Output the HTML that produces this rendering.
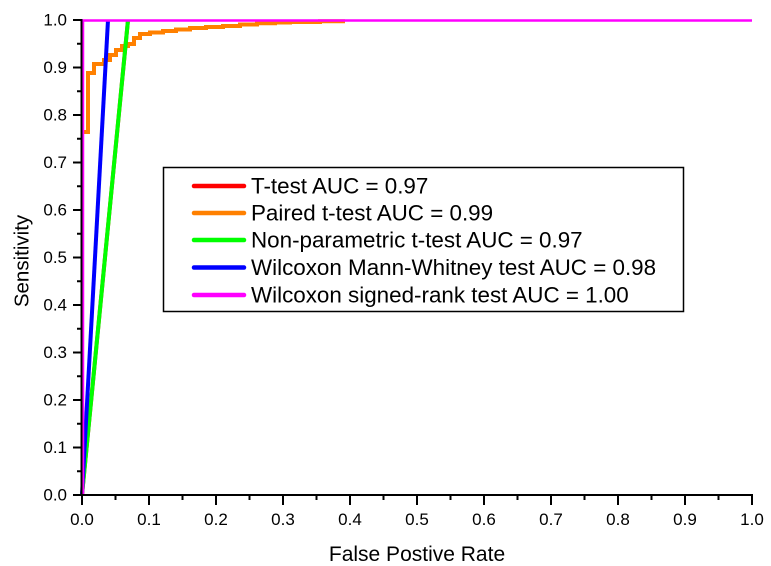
<!DOCTYPE html>
<html><head><meta charset="utf-8"><style>
html,body{margin:0;padding:0;background:#fff;}
svg{display:block;}
text{font-family:"Liberation Sans",Arial,sans-serif;fill:#000;}
</style></head><body>
<svg width="771" height="566" viewBox="0 0 771 566" xmlns="http://www.w3.org/2000/svg">
<!-- series -->
<g fill="none" stroke-width="4" stroke-linejoin="miter">
<polyline stroke="#ff8000" points="82,132 88,132 88,73 94,73 94,64 104,64 104,60 110,60 110,55 116,55 116,50 122,50 122,46 128,46 128,44 134,44 134,38 140,38 140,34 150,34 150,32.5 163,32.5 163,31 176,31 176,29.5 190,29.5 190,28 206,28 206,27 223,27 223,26 240,26 240,24.5 257,24.5 257,23.3 275,23.3 275,22.5 290,22.5 290,22 320,22 320,21.3 345,21.3"/>
<line x1="82" y1="495" x2="128" y2="20" stroke="#ff0000"/>
<line x1="82" y1="495" x2="128" y2="20" stroke="#00ff00"/>
<line x1="82" y1="495" x2="108" y2="20" stroke="#0000ff"/>
<polyline stroke="#ff00ff" stroke-width="2.5" points="83,495 83,20.5 752,20.5"/>
</g>
<!-- axes -->
<g stroke="#000" stroke-width="2" fill="none">
<line x1="81.5" y1="19" x2="81.5" y2="496"/>
<line x1="80.5" y1="495" x2="753" y2="495"/>
<!-- y ticks -->
<path d="M73,495H82 M77,471.25H82 M73,447.5H82 M77,423.75H82 M73,400H82 M77,376.25H82 M73,352.5H82 M77,328.75H82 M73,305H82 M77,281.25H82 M73,257.5H82 M77,233.75H82 M73,210H82 M77,186.25H82 M73,162.5H82 M77,138.75H82 M73,115H82 M77,91.25H82 M73,67.5H82 M77,43.75H82 M73,20H82"/>
<!-- x ticks -->
<path d="M82,495V505 M115.5,495V500 M149,495V505 M182.5,495V500 M216,495V505 M249.5,495V500 M283,495V505 M316.5,495V500 M350,495V505 M383.5,495V500 M417,495V505 M450.5,495V500 M484,495V505 M517.5,495V500 M551,495V505 M584.5,495V500 M618,495V505 M651.5,495V500 M685,495V505 M718.5,495V500 M752,495V505"/>
</g>
<!-- y labels -->
<g font-size="17" text-anchor="end">
<text x="67" y="500.5">0.0</text>
<text x="67" y="453">0.1</text>
<text x="67" y="405.5">0.2</text>
<text x="67" y="358">0.3</text>
<text x="67" y="310.5">0.4</text>
<text x="67" y="263">0.5</text>
<text x="67" y="215.5">0.6</text>
<text x="67" y="168">0.7</text>
<text x="67" y="120.5">0.8</text>
<text x="67" y="73">0.9</text>
<text x="67" y="25.5">1.0</text>
</g>
<!-- x labels -->
<g font-size="17" text-anchor="middle">
<text x="82" y="525">0.0</text>
<text x="149" y="525">0.1</text>
<text x="216" y="525">0.2</text>
<text x="283" y="525">0.3</text>
<text x="350" y="525">0.4</text>
<text x="417" y="525">0.5</text>
<text x="484" y="525">0.6</text>
<text x="551" y="525">0.7</text>
<text x="618" y="525">0.8</text>
<text x="685" y="525">0.9</text>
<text x="752" y="525">1.0</text>
</g>
<!-- axis titles -->
<text x="417" y="561" font-size="21" text-anchor="middle">False Postive Rate</text>
<text transform="translate(28.5,261) rotate(-90)" font-size="20.5" text-anchor="middle">Sensitivity</text>
<!-- legend -->
<rect x="163.5" y="167.5" width="520" height="144" fill="#fff" stroke="#000" stroke-width="1.5"/>
<g stroke-width="4.5" stroke-linecap="round">
<line x1="194" y1="186" x2="244" y2="186" stroke="#ff0000"/>
<line x1="194" y1="213" x2="244" y2="213" stroke="#ff8000"/>
<line x1="194" y1="240" x2="244" y2="240" stroke="#00ff00"/>
<line x1="194" y1="267.5" x2="244" y2="267.5" stroke="#0000ff"/>
<line x1="194" y1="295" x2="244" y2="295" stroke="#ff00ff"/>
</g>
<g font-size="22.4">
<text x="251" y="193.5">T-test AUC = 0.97</text>
<text x="251" y="220.5">Paired t-test AUC = 0.99</text>
<text x="251" y="247.5">Non-parametric t-test AUC = 0.97</text>
<text x="251" y="275">Wilcoxon Mann-Whitney test AUC = 0.98</text>
<text x="251" y="302.5">Wilcoxon signed-rank test AUC = 1.00</text>
</g>
</svg>
</body></html>
